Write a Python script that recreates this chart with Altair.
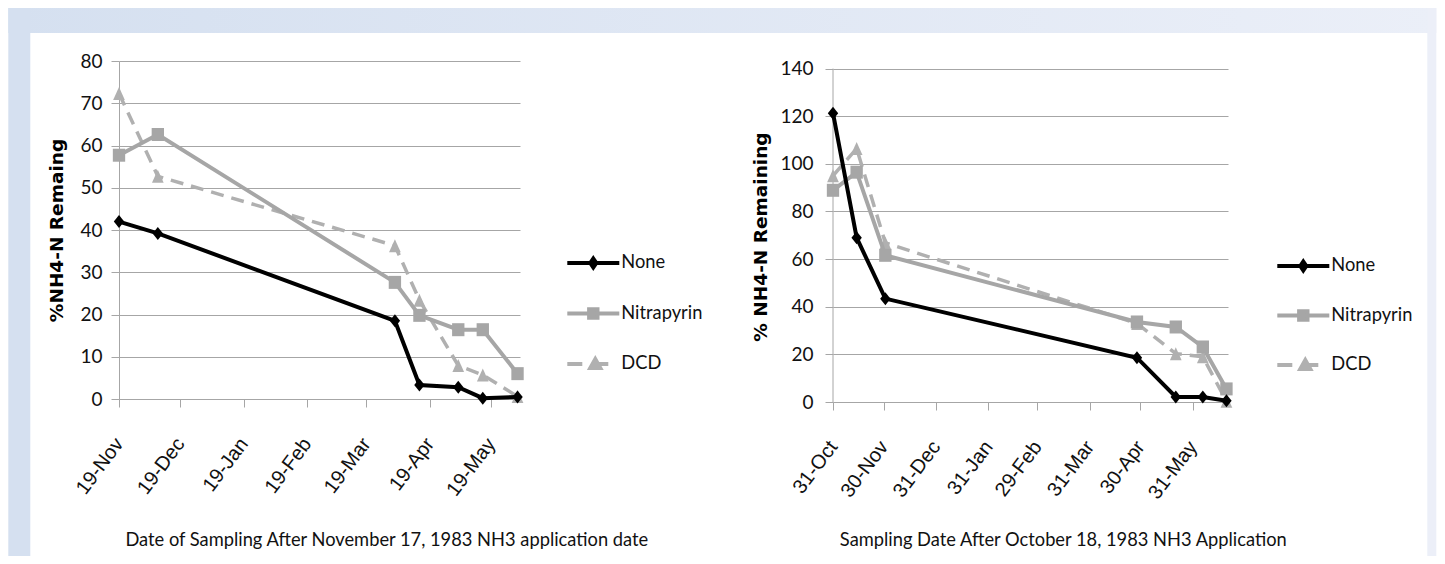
import altair as alt
import pandas as pd

SERIES = ["None", "Nitrapyrin", "DCD"]

LEFT_DATES = ["1983-11-19", "1983-12-08", "1984-04-02", "1984-04-14",
              "1984-05-03", "1984-05-15", "1984-06-01"]
LEFT_NONE = [42.0, 39.2, 18.5, 3.3, 2.8, 0.2, 0.5]
LEFT_NITRAPYRIN = [57.7, 62.6, 27.6, 19.8, 16.4, 16.4, 6.0]
LEFT_DCD = [72.3, 52.7, 36.3, 23.4, 7.9, 5.7, 0.6]

RIGHT_DATES = ["1983-10-31", "1983-11-14", "1983-12-01", "1984-04-28",
               "1984-05-21", "1984-06-06", "1984-06-20"]
RIGHT_NONE = [121.3, 69.0, 43.4, 18.6, 2.1, 2.1, 0.5]
RIGHT_NITRAPYRIN = [88.9, 96.5, 61.6, 33.6, 31.5, 23.1, 5.5]
RIGHT_DCD = [95.0, 106.4, 66.8, 33.0, 20.3, 19.0, 0.3]

LEFT_XTICKS = [(1983, 11, 19), (1983, 12, 19), (1984, 1, 19), (1984, 2, 19),
               (1984, 3, 19), (1984, 4, 19), (1984, 5, 19)]
RIGHT_XTICKS = [(1983, 10, 31), (1983, 11, 30), (1983, 12, 31), (1984, 1, 31),
                (1984, 2, 29), (1984, 3, 31), (1984, 4, 30), (1984, 5, 31)]
LEFT_YTICKS = [0, 10, 20, 30, 40, 50, 60, 70, 80]
RIGHT_YTICKS = [0, 20, 40, 60, 80, 100, 120, 140]

LEFT_XTITLE = "Date of Sampling After November 17, 1983 NH3 application date"
RIGHT_XTITLE = "Sampling Date After October 18, 1983 NH3 Application"
LEFT_YTITLE = "%NH4-N Remaing"
RIGHT_YTITLE = "% NH4-N Remaining"

GRID = "#a6a6a6"
COL = {"None": "#000000", "Nitrapyrin": "#a6a6a6", "DCD": "#b0b0b0"}
NARROW = "Lato, Liberation Sans, sans-serif"
WIDE = "Liberation Sans, Arial, sans-serif"

MARKER = {
    "None": "M-0.8,0L0,-1L0.8,0L0,1Z",
    "Nitrapyrin": "M-0.95,-1L0.95,-1L0.95,1L-0.95,1Z",
    "DCD": "M0,-1L0.9,1L-0.9,1Z",
}
LEG_PATH = {
    "None": "M-2.6,0L2.6,0M0,-0.45L0.3,0L0,0.45L-0.3,0Z",
    "Nitrapyrin": "M-2.6,0L2.6,0M-0.42,-0.42L0.42,-0.42L0.42,0.42L-0.42,0.42Z",
    "DCD": "M-2.6,0L-1.1,0M0.1,0L1.5,0M-0.3,0.4L0.2,-0.5L0.7,0.4Z",
}


def long_df(dates, none, nit, dcd):
    rows = []
    for s, vals in zip(SERIES, [none, nit, dcd]):
        for d, v in zip(dates, vals):
            rows.append({"date": d, "value": v, "series": s})
    return pd.DataFrame(rows)


def dt(t, hours=0):
    return alt.DateTime(year=t[0], month=t[1], date=t[2], hours=hours, utc=True)


ONE = alt.Data(values=[{"k": 1}])


def band(x1, x2, y1, y2, fill):
    return alt.Chart(ONE).mark_rect(fill=fill).encode(
        x=alt.value(x1), x2=alt.value(x2), y=alt.value(y1), y2=alt.value(y2))


def panel(df, xdom, xticks, ydom, yticks, width, height, xtitle, ytitle,
          xt_pos, yt_pos, leg_pos, ylabpad, bands=False, yrule=False):
    x = alt.X("date:T",
              scale=alt.Scale(type="utc", domain=xdom, nice=False),
              axis=alt.Axis(values=[dt(t) for t in xticks], format="%d-%b",
                            labelAngle=307, labelAlign="right", labelBaseline="top",
                            labelFont=WIDE, labelFontSize=20, labelColor="#111",
                            labelPadding=27, labelOffset=-8, labelFlush=False,
                            labelOverlap=False, tickSize=8, tickColor=GRID,
                            domainColor=GRID, grid=False, title=xtitle,
                            titleFont=NARROW, titleFontSize=18.3,
                            titleFontWeight="normal", titleColor="#111",
                            titleX=xt_pos[0], titleY=xt_pos[1], titleAlign="center",
                            titleBaseline="middle"))
    y = alt.Y("value:Q",
              scale=alt.Scale(domain=ydom, nice=False, zero=False),
              axis=alt.Axis(values=yticks, grid=True, gridColor=GRID, gridWidth=1,
                            domain=not yrule, domainColor=GRID, tickColor=GRID,
                            tickSize=8, labelPadding=ylabpad, labelFont=NARROW,
                            labelFontSize=19, labelColor="#111", title=ytitle,
                            titleFont="DejaVu Sans", titleFontWeight="bold",
                            titleFontSize=18.5, titleColor="#000", titleAngle=270,
                            titleX=yt_pos[0], titleY=yt_pos[1], titleAlign="center",
                            titleBaseline="middle"))
    layers = []
    if bands:
        grad = {"gradient": "linear", "x1": 0, "x2": 1, "y1": 0, "y2": 0,
                "stops": [{"offset": 0, "color": "#d5e0f0"},
                          {"offset": 1, "color": "#ebeff8"}]}
        layers.append(band(-110.7, 1317.3, -53, -28, grad))
        layers.append(band(-110.7, -88.7, -53, 495, "#d5e0f0"))
        layers.append(band(1308.3, 1317.3, -53, 495, "#eceff8"))
    if yrule:
        layers.append(alt.Chart(ONE).mark_rule(color=GRID, strokeWidth=1).encode(
            x=alt.value(0), y=alt.datum(yticks[0]), y2=alt.datum(yticks[-1])))
    for s in ["DCD", "Nitrapyrin", "None"]:
        base = alt.Chart(df).transform_filter(alt.datum.series == s)
        lkw = {"color": COL[s], "strokeWidth": 4}
        if s == "DCD":
            lkw["strokeDash"] = [13, 8]
            lkw["strokeWidth"] = 3.5
        layers.append(base.mark_line(**lkw).encode(x=x, y=y))
        layers.append(base.mark_point(shape=MARKER[s], filled=True, size=169,
                                      color=COL[s], opacity=1).encode(x=x, y=y))
    leg = alt.Legend(title=None, orient="none", legendX=leg_pos[0], legendY=leg_pos[1],
                     labelFont=NARROW, labelFontSize=18.3, labelColor="#111",
                     symbolSize=400, symbolStrokeWidth=4, symbolOpacity=1,
                     labelOffset=16, rowPadding=leg_pos[2], padding=0)
    colors = [COL[s] for s in SERIES]
    layers.append(
        alt.Chart(df).transform_filter("false").mark_point(
            filled=True, opacity=1, strokeWidth=4).encode(
            x=x, y=y,
            fill=alt.Fill("series:N", scale=alt.Scale(domain=SERIES, range=colors), legend=leg),
            stroke=alt.Stroke("series:N", scale=alt.Scale(domain=SERIES, range=colors), legend=leg),
            shape=alt.Shape("series:N", scale=alt.Scale(domain=SERIES,
                                                        range=[LEG_PATH[s] for s in SERIES]),
                            legend=leg),
        ))
    return alt.layer(*layers).properties(width=width, height=height)


left_df = long_df(LEFT_DATES, LEFT_NONE, LEFT_NITRAPYRIN, LEFT_DCD)
right_df = long_df(RIGHT_DATES, RIGHT_NONE, RIGHT_NITRAPYRIN, RIGHT_DCD)

left = panel(left_df, [dt((1983, 11, 19)), dt((1984, 6, 2), 5)], LEFT_XTICKS,
             [0, 80], LEFT_YTICKS, 401, 338, LEFT_XTITLE, LEFT_YTITLE,
             (267.3, 141), (-62.7, 169), (462.3, 190, 24.5), 9, bands=True)
right = panel(right_df, [dt((1983, 10, 31)), dt((1984, 6, 20), 22)], RIGHT_XTICKS,
              [0, 341 / 2.3814], RIGHT_YTICKS, 395, 341, RIGHT_XTITLE, RIGHT_YTITLE,
              (229.8, 138), (-72.7, 175.5), (458.3, 193, 23.5), 12, yrule=True)

chart = alt.hconcat(left, right, spacing=313, bounds="flush").resolve_scale(
    fill="independent", stroke="independent", shape="independent"
).resolve_legend(
    fill="independent", stroke="independent", shape="independent"
).properties(padding=0, background="white").configure_view(strokeWidth=0)

chart.save("out.html", embed_options={"renderer": "svg", "actions": False})
